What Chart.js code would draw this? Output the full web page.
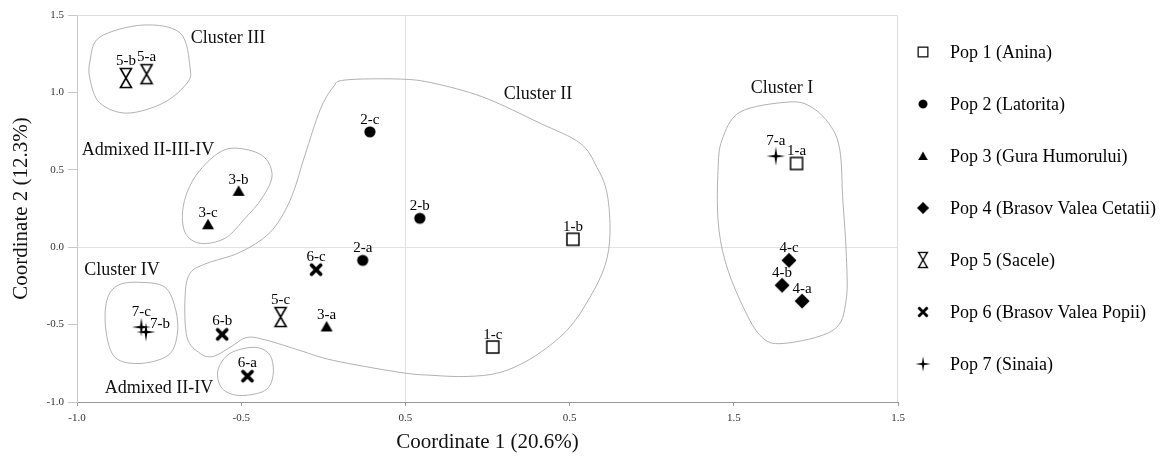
<!DOCTYPE html>
<html>
<head>
<meta charset="utf-8">
<script src="https://cdn.jsdelivr.net/npm/chart.js@4.4.1/dist/chart.umd.min.js"></script>
<style>
  html, body { margin: 0; padding: 0; background: #fff; }
</style>
</head>
<body>
<canvas id="pcoa" width="1166" height="460"></canvas>
<script>
/* ===============
   PCoA DATA
   =============== */
const popNames = ['Pop 1 (Anina)', 'Pop 2 (Latorita)', 'Pop 3 (Gura Humorului)', 'Pop 4 (Brasov Valea Cetatii)',
                  'Pop 5 (Sacele)', 'Pop 6 (Brasov Valea Popii)', 'Pop 7 (Sinaia)'];

const pop1Labels = ['1-a', '1-b', '1-c'];
const pop1X = [1.191, 0.510, 0.266];
const pop1Y = [0.541, 0.051, -0.645];

const pop2Labels = ['2-a', '2-b', '2-c'];
const pop2X = [-0.130, 0.044, -0.108];
const pop2Y = [-0.085, 0.187, 0.745];

const pop3Labels = ['3-a', '3-b', '3-c'];
const pop3X = [-0.240, -0.508, -0.601];
const pop3Y = [-0.512, 0.364, 0.148];

const pop4Labels = ['4-a', '4-b', '4-c'];
const pop4X = [1.208, 1.147, 1.168];
const pop4Y = [-0.348, -0.246, -0.085];

const pop5Labels = ['5-a', '5-b', '5-c'];
const pop5X = [-0.788, -0.851, -0.380];
const pop5Y = [1.118, 1.093, -0.451];

const pop6Labels = ['6-a', '6-b', '6-c'];
const pop6X = [-0.481, -0.558, -0.272];
const pop6Y = [-0.833, -0.563, -0.145];

const pop7Labels = ['7-a', '7-b', '7-c'];
const pop7X = [1.128, -0.790, -0.804];
const pop7Y = [0.588, -0.548, -0.516];

const xTickLabels = ['-1.0', '-0.5', '0.5', '0.5', '1.5', '1.5'];
const yTickLabels = ['-1.0', '-0.5', '0.0', '0.5', '1.0', '1.5'];

// cluster outlines (data units)
const clusterI = [[1.162,0.937],[1.232,0.911],[1.293,0.789],[1.323,0.627],[1.332,0.303],[1.342,-0.020],[1.342,-0.343],
  [1.302,-0.537],[1.150,-0.622],[1.080,-0.570],[1.019,-0.343],[0.973,-0.085],[0.952,0.174],[0.952,0.497],[0.964,0.692],[1.019,0.873]];
const clusterII = [[-0.184,1.080],[-0.016,1.086],[0.084,1.060],[0.236,0.970],[0.410,0.801],[0.532,0.672],[0.583,0.517],
  [0.614,0.349],[0.623,0.090],[0.608,-0.117],[0.562,-0.324],[0.492,-0.537],[0.388,-0.712],[0.288,-0.809],[0.188,-0.835],
  [0.084,-0.828],[-0.016,-0.809],[-0.220,-0.731],[-0.321,-0.667],[-0.421,-0.602],[-0.482,-0.583],[-0.534,-0.647],
  [-0.586,-0.706],[-0.625,-0.686],[-0.665,-0.583],[-0.671,-0.324],[-0.656,-0.169],[-0.604,-0.104],[-0.504,-0.033],
  [-0.412,0.096],[-0.351,0.303],[-0.306,0.594],[-0.260,0.886],[-0.220,1.034]];
const clusterIII = [[-0.799,1.435],[-0.686,1.384],[-0.656,1.164],[-0.665,1.060],[-0.738,0.931],[-0.848,0.866],
  [-0.930,0.931],[-0.960,1.080],[-0.960,1.209],[-0.930,1.358]];
const clusterIV = [[-0.808,-0.227],[-0.732,-0.259],[-0.699,-0.408],[-0.695,-0.570],[-0.723,-0.699],[-0.808,-0.751],
  [-0.884,-0.712],[-0.912,-0.537],[-0.909,-0.343],[-0.875,-0.246]];
const admixedIIIIIIV = [[-0.525,0.640],[-0.437,0.594],[-0.406,0.465],[-0.437,0.316],[-0.488,0.187],[-0.549,0.058],
  [-0.625,0.025],[-0.671,0.096],[-0.677,0.258],[-0.647,0.433],[-0.586,0.582]];
const admixedIIIV = [[-0.458,-0.647],[-0.412,-0.699],[-0.403,-0.828],[-0.428,-0.926],[-0.504,-0.958],[-0.558,-0.913],
  [-0.571,-0.796],[-0.534,-0.686]];

const groupNames = ['Cluster I', 'Cluster II', 'Cluster III', 'Cluster IV', 'Admixed II-III-IV', 'Admixed II-IV'];
const groupLabelX = [1.147, 0.404, -0.540, -0.863, -0.784, -0.750];
const groupLabelY = [1.028, 0.989, 1.351, -0.149, 0.627, -0.913];

const SERIF = '"Liberation Serif", "Times New Roman", serif';

/* ===============
   MARKERS
   =============== */
function makeMarker(w, h, draw) {
    const c = document.createElement('canvas');
    c.width = w; c.height = h;
    const g = c.getContext('2d');
    g.translate(w / 2, h / 2);
    g.fillStyle = '#000'; g.strokeStyle = '#000';
    draw(g);
    return c;
}

const mkSquare = makeMarker(16, 16, g => {
    g.fillStyle = '#fff'; g.fillRect(-6, -6, 12, 12);
    g.lineWidth = 1.5; g.strokeRect(-6, -6, 12, 12);
});
const mkCircle = makeMarker(14, 14, g => {
    g.beginPath(); g.arc(0, 0, 5.6, 0, Math.PI * 2); g.fill();
});
const mkTriangle = makeMarker(16, 16, g => {
    g.beginPath(); g.moveTo(0, -5.5); g.lineTo(6, 5); g.lineTo(-6, 5); g.closePath(); g.fill();
});
const mkDiamond = makeMarker(18, 18, g => {
    g.beginPath(); g.moveTo(0, -7.5); g.lineTo(7.5, 0); g.lineTo(0, 7.5); g.lineTo(-7.5, 0); g.closePath(); g.fill();
});
const mkHourglass = makeMarker(16, 24, g => {
    g.lineWidth = 1.6; g.lineJoin = 'miter';
    g.beginPath(); g.moveTo(-5.5, -9.5); g.lineTo(5.5, -9.5); g.lineTo(-5.5, 9.5); g.lineTo(5.5, 9.5); g.closePath();
    g.fillStyle = '#fff'; g.fill(); g.stroke();
});
const mkCross = makeMarker(16, 16, g => {
    g.lineWidth = 3.8; g.lineCap = 'round';
    g.beginPath(); g.moveTo(-4.5, -4.5); g.lineTo(4.5, 4.5); g.moveTo(4.5, -4.5); g.lineTo(-4.5, 4.5); g.stroke();
});
const mkStar = makeMarker(22, 22, g => {
    g.beginPath();
    for (let i = 0; i < 8; i++) {
        const r = i % 2 === 0 ? 9.5 : 1.8;
        const a = i * Math.PI / 4 - Math.PI / 2;
        const px = r * Math.cos(a), py = r * Math.sin(a);
        if (i === 0) g.moveTo(px, py); else g.lineTo(px, py);
    }
    g.closePath(); g.fill();
});

const popMarkers = [mkSquare, mkCircle, mkTriangle, mkDiamond, mkHourglass, mkCross, mkStar];
const labelLift = [12, 12, 11, 12, 17, 13, 15];
const labelNudge = { '7-b': [14, 8] };

function toPoints(xs, ys) { return xs.map((x, i) => ({ x: x, y: ys[i] })); }

const allX = [pop1X, pop2X, pop3X, pop4X, pop5X, pop6X, pop7X];
const allY = [pop1Y, pop2Y, pop3Y, pop4Y, pop5Y, pop6Y, pop7Y];
const allLabels = [pop1Labels, pop2Labels, pop3Labels, pop4Labels, pop5Labels, pop6Labels, pop7Labels];

const datasets = popNames.map((name, i) => ({
    label: name,
    data: toPoints(allX[i], allY[i]),
    pointLabels: allLabels[i],
    labelLift: labelLift[i],
    pointStyle: popMarkers[i],
    pointRadius: 6,
    pointHoverRadius: 6
}));

/* ===============
   PLUGINS
   =============== */
function smoothLoop(ctx, pts) {
    const n = pts.length;
    ctx.beginPath();
    ctx.moveTo(pts[0].x, pts[0].y);
    for (let i = 0; i < n; i++) {
        const p0 = pts[(i - 1 + n) % n], p1 = pts[i], p2 = pts[(i + 1) % n], p3 = pts[(i + 2) % n];
        ctx.bezierCurveTo(p1.x + (p2.x - p0.x) / 6, p1.y + (p2.y - p0.y) / 6,
                          p2.x - (p3.x - p1.x) / 6, p2.y - (p3.y - p1.y) / 6, p2.x, p2.y);
    }
    ctx.closePath();
    ctx.stroke();
}

const outlinePlugin = {
    id: 'outlines',
    beforeDatasetsDraw(chart) {
        const { ctx, chartArea: a, scales: { x, y } } = chart;
        ctx.save();
        // frame top/right
        ctx.strokeStyle = '#dcdcdc'; ctx.lineWidth = 1;
        ctx.beginPath();
        ctx.moveTo(a.left, a.top + 0.5); ctx.lineTo(a.right - 0.5, a.top + 0.5); ctx.lineTo(a.right - 0.5, a.bottom);
        ctx.stroke();

        ctx.strokeStyle = '#a8a8a8'; ctx.lineWidth = 0.9;
        [clusterI, clusterII, clusterIII, clusterIV, admixedIIIIIIV, admixedIIIV].forEach(shape => {
            smoothLoop(ctx, shape.map(p => ({ x: x.getPixelForValue(p[0]), y: y.getPixelForValue(p[1]) })));
        });

        ctx.fillStyle = '#111'; ctx.font = '18px ' + SERIF;
        ctx.textAlign = 'center'; ctx.textBaseline = 'middle';
        groupNames.forEach((t, i) => {
            ctx.fillText(t, x.getPixelForValue(groupLabelX[i]), y.getPixelForValue(groupLabelY[i]));
        });
        ctx.restore();
    },
    afterDatasetsDraw(chart) {
        const ctx = chart.ctx;
        ctx.save();
        ctx.fillStyle = '#000'; ctx.font = '15px ' + SERIF;
        ctx.textAlign = 'center'; ctx.textBaseline = 'middle';
        chart.data.datasets.forEach((ds, i) => {
            chart.getDatasetMeta(i).data.forEach((el, j) => {
                const name = ds.pointLabels[j];
                const nudge = labelNudge[name];
                if (nudge) ctx.fillText(name, el.x + nudge[0], el.y - nudge[1]);
                else ctx.fillText(name, el.x, el.y - ds.labelLift);
            });
        });

        // legend
        const lx = chart.chartArea.right + 25, tx = chart.chartArea.right + 52;
        ctx.textAlign = 'left'; ctx.font = '18px ' + SERIF;
        chart.data.datasets.forEach((ds, i) => {
            const ly = 52 + i * 52;
            const m = ds.pointStyle, s = 0.8;
            ctx.drawImage(m, lx - m.width * s / 2, ly - m.height * s / 2, m.width * s, m.height * s);
            ctx.fillText(ds.label, tx, ly + 1);
        });
        ctx.restore();
    }
};

/* ===============
   CHART
   =============== */
const tickFont = { family: SERIF, size: 11 };

new Chart(document.getElementById('pcoa'), {
    type: 'scatter',
    data: { datasets: datasets },
    options: {
        responsive: false,
        animation: false,
        devicePixelRatio: 1,
        layout: { padding: { top: 15, right: 268, left: 0, bottom: 0 } },
        plugins: { legend: { display: false }, tooltip: { enabled: false } },
        scales: {
            x: {
                type: 'linear', min: -1, max: 1.5,
                afterFit: s => { s.height = 58; },
                ticks: { stepSize: 0.5, font: tickFont, color: '#333', padding: 6,
                         callback: (v, i) => xTickLabels[i] },
                grid: { color: c => (c.tick && c.tick.value === 0 ? '#e2e2e2' : 'rgba(0,0,0,0)'),
                        tickColor: '#999', tickLength: 4 },
                border: { color: '#999' },
                title: { display: true, text: 'Coordinate 1 (20.6%)', font: { family: SERIF, size: 21 },
                         color: '#111', padding: { top: 0, bottom: 5 } }
            },
            y: {
                type: 'linear', min: -1, max: 1.5,
                afterFit: s => { s.width = 77; },
                ticks: { stepSize: 0.5, font: tickFont, color: '#333', padding: 4,
                         callback: (v, i) => yTickLabels[i] },
                grid: { color: c => (c.tick && c.tick.value === 0 ? '#e2e2e2' : 'rgba(0,0,0,0)'),
                        tickColor: '#c8c8c8', tickLength: 9 },
                border: { color: '#c8c8c8' },
                title: { display: true, text: 'Coordinate 2 (12.3%)', font: { family: SERIF, size: 21 },
                         color: '#111', padding: { top: 9, bottom: 0 } }
            }
        }
    },
    plugins: [outlinePlugin]
});
</script>
</body>
</html>
